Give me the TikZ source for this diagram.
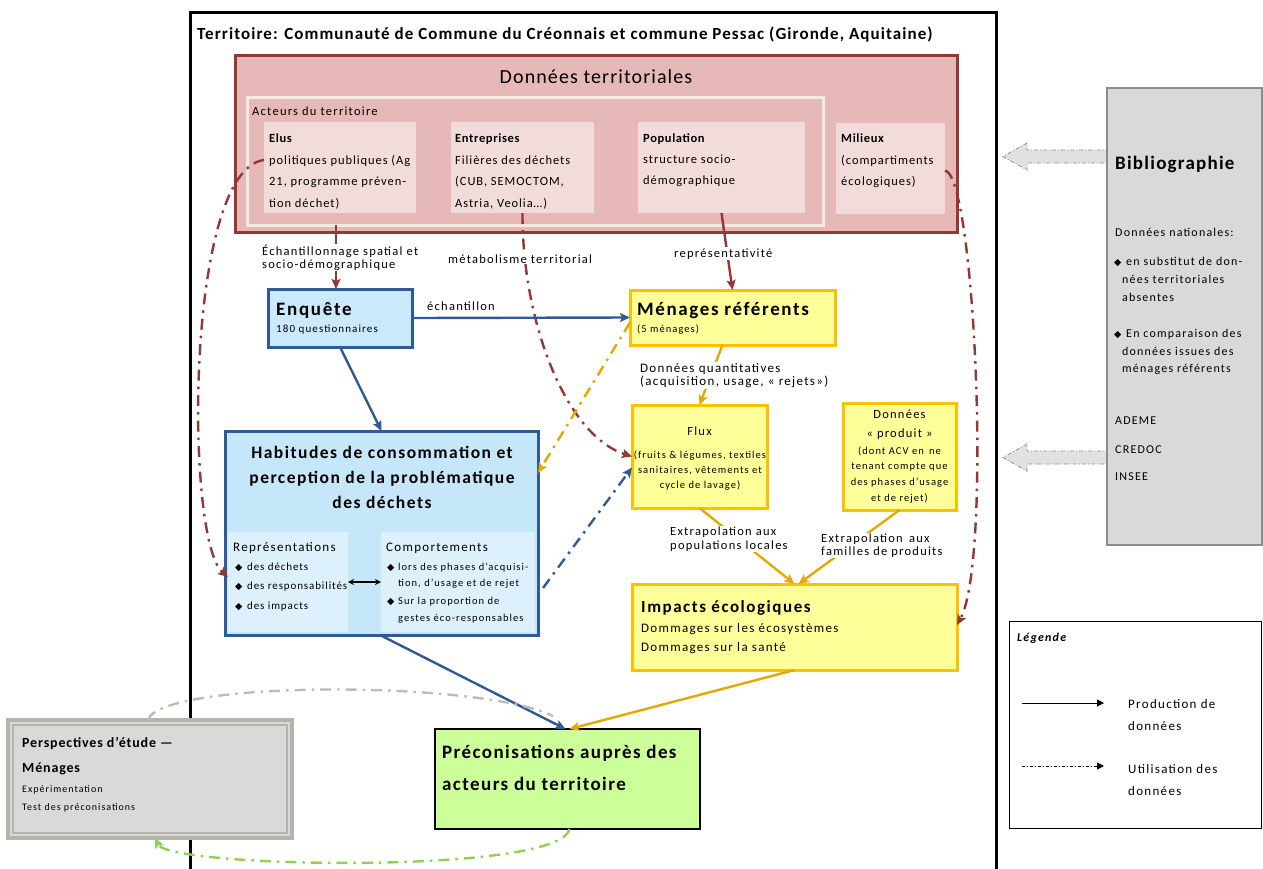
\documentclass[tikz,border=0pt]{standalone}
\usepackage{fontspec}
\setmainfont{Carlito}[LetterSpace=10]
\newfontfamily\symfont{DejaVu Sans}
\usetikzlibrary{arrows.meta}
\definecolor{dred}{HTML}{953735}
\definecolor{pinkbg}{HTML}{E6B9B8}
\definecolor{pinklt}{HTML}{F2DCDB}
\definecolor{cream}{HTML}{EEECE1}
\definecolor{bdark}{HTML}{2F5A96}
\definecolor{enqfill}{HTML}{CBE9FC}
\definecolor{habfill}{HTML}{C6E6FA}
\definecolor{habin}{HTML}{DDF1FD}
\definecolor{yfill}{HTML}{FFFF99}
\definecolor{gold}{HTML}{FFC000}
\definecolor{goldarr}{HTML}{E0AA00}
\definecolor{gfill}{HTML}{CCFF99}
\definecolor{grayfill}{HTML}{D9D9D9}
\definecolor{grayborder}{HTML}{8C8C8C}
\definecolor{perspb}{HTML}{B4B4AC}
\definecolor{gdash}{HTML}{92D050}
\definecolor{graydash}{HTML}{BDBDB6}
\newcommand\FS[2]{\fontsize{#1}{#2}\selectfont}
\newcommand\LS[1]{\addfontfeature{LetterSpace=#1}}
\newcommand\dmd{{\symfont\fontsize{9.5}{9.5}\selectfont ◆}}
\tikzset{
  box/.style={rectangle, inner sep=0pt, outer sep=0pt},
  tl/.style={anchor=base west, inner sep=0pt},
  tc/.style={anchor=base, inner sep=0pt},
  lbl/.style={fill=white, inner sep=1pt, align=left},
  solidarr/.style={line width=2.4pt, -{Stealth[length=10pt,width=9pt,inset=2pt]}},
  dasharr/.style={line width=2.4pt, dash pattern=on 11pt off 6pt on 2.5pt off 6pt, -{Stealth[length=10pt,width=9pt,inset=2pt]}},
  barrow/.style={fill=grayfill!80!white, draw=grayborder, line width=0.8pt, dash pattern=on 4pt off 2pt on 1pt off 2pt},
}
\begin{document}
\begin{tikzpicture}[x=1pt,y=-1pt]
\useasboundingbox (0,0) rectangle (1263,868);
% main frame
\draw[line width=3pt] (190,880) -- (190,12) -- (996,12) -- (996,880);
\node[tl, font=\bfseries\FS{17}{20}\LS{6.3}] (title) at (197,39) {Territoire: Communauté de Commune du Créonnais et commune Pessac (Gironde, Aquitaine)};

% Données territoriales
\node[box, fill=pinkbg, draw=dred, line width=3pt, minimum width=722pt, minimum height=177pt] (dt) at (596,143.5) {};
\node[tc, font=\FS{20}{24}\LS{5.5}] (dtt) at (596,83) {Données territoriales};
\node[box, fill=pinkbg, draw=cream, line width=3pt, minimum width=576pt, minimum height=128pt] (act) at (535,161) {};
\node[tl, font=\FS{12.5}{14}] (actt) at (252,115) {Acteurs du territoire};
\node[box, fill=pinklt, minimum width=152pt, minimum height=91pt] (elus) at (340,167.5) {};
\node[box, fill=pinklt, minimum width=143pt, minimum height=91pt] (ent) at (522.5,167.5) {};
\node[box, fill=pinklt, minimum width=167pt, minimum height=91pt] (pop) at (721.5,167.5) {};
\node[box, fill=pinklt, minimum width=109pt, minimum height=91pt] (mil) at (890.5,168.5) {};
\begin{scope}[every node/.append style={font=\FS{12.5}{14}\LS{7.5}}]
\node[tl, font=\bfseries\FS{12.5}{14}\LS{5}] (e1) at (269,142) {Elus};
\node[tl] (e2) at (269,164) {politiques publiques (Ag};
\node[tl] (e3) at (269,185) {21, programme préven-};
\node[tl] (e4) at (269,207) {tion déchet)};
\node[tl, font=\bfseries\FS{12.5}{14}\LS{5}] (n1) at (455,142) {Entreprises};
\node[tl] (n2) at (455,164) {Filières des déchets};
\node[tl] (n3) at (455,185) {(CUB, SEMOCTOM,};
\node[tl] (n4) at (455,207) {Astria, Veolia…)};
\node[tl, font=\bfseries\FS{12.5}{14}\LS{5}] (p1) at (643,142) {Population};
\node[tl] (p2) at (643,163) {structure socio-};
\node[tl] (p3) at (643,184) {démographique};
\node[tl, font=\bfseries\FS{12.5}{14}\LS{5}] (m1) at (841,142) {Milieux};
\node[tl] (m2) at (841,164) {(compartiments};
\node[tl] (m3) at (841,185) {écologiques)};
\end{scope}

% Enquête
\node[box, fill=enqfill, draw=bdark, line width=3pt, minimum width=144pt, minimum height=58pt] (enq) at (340,318) {};
\node[tl, font=\bfseries\FS{19}{22}\LS{9}] (enqt) at (276,315) {Enquête};
\node[tl, font=\FS{11}{13}] (enqs) at (276,332) {180 questionnaires};

% Ménages référents
\node[box, fill=yfill, draw=gold, line width=3pt, minimum width=205pt, minimum height=55pt] (men) at (732.5,317.5) {};
\node[tl, font=\bfseries\FS{19}{22}\LS{8.5}] (ment) at (637,315) {Ménages référents};
\node[tl, font=\FS{10.5}{12}] (mens) at (637,332) {(5 ménages)};

% Habitudes
\node[box, fill=habfill, draw=bdark, line width=3pt, minimum width=313pt, minimum height=204pt] (hab) at (381.5,533) {};
\node[box, fill=habin, minimum width=120pt, minimum height=100pt] (rep) at (288,582) {};
\node[box, fill=habin, minimum width=154pt, minimum height=100pt] (comp) at (458,582) {};
\begin{scope}[every node/.append style={font=\bfseries\FS{17.5}{20}\LS{8.5}}]
\node[tc] (h1) at (382,458) {Habitudes de consommation et};
\node[tc] (h2) at (382,483) {perception de la problématique};
\node[tc] (h3) at (382,508) {des déchets};
\end{scope}
\node[tl, font=\FS{13}{15}] (rt) at (233,551) {Représentations};
\begin{scope}[every node/.append style={font=\FS{11}{13}\LS{8}}]
\node[tl] (rb1) at (235,570) {\dmd};
\node[tl] (r1) at (247,570) {des déchets};
\node[tl] (rb2) at (235,589) {\dmd};
\node[tl] (r2) at (247,589) {des responsabilités};
\node[tl] (rb3) at (235,609) {\dmd};
\node[tl] (r3) at (247,609) {des impacts};
\end{scope}
\node[tl, font=\FS{13}{15}] (ct) at (386,551) {Comportements};
\begin{scope}[every node/.append style={font=\FS{10.5}{12}}]
\node[tl] (cb1) at (387,570) {\dmd};
\node[tl] (c1) at (398,570) {lors des phases d’acquisi-};
\node[tl] (c2) at (398,586) {tion, d’usage et de rejet};
\node[tl] (cb2) at (387,604) {\dmd};
\node[tl] (c3) at (398,604) {Sur la proportion de};
\node[tl] (c4) at (398,621) {gestes éco-responsables};
\end{scope}
\draw[line width=1.2pt, {Stealth[length=6pt,width=6pt]}-{Stealth[length=6pt,width=6pt]}] (rep.east) -- (comp.west);

% Flux
\node[box, fill=yfill, draw=gold, line width=3pt, minimum width=135pt, minimum height=103pt] (flux) at (699.5,456.5) {};
\node[tc, font=\FS{12.5}{14}] (f0) at (699.5,435) {Flux};
\begin{scope}[every node/.append style={font=\FS{10.5}{12}}]
\node[tc] (f1) at (700,458) {(fruits \& légumes, textiles};
\node[tc] (f2) at (700,473) {sanitaires, vêtements et};
\node[tc] (f3) at (700,488) {cycle de lavage)};
\end{scope}

% Données produit
\node[box, fill=yfill, draw=gold, line width=3pt, minimum width=113pt, minimum height=107pt] (prod) at (899.5,456.5) {};
\node[tc, font=\FS{12.5}{14}] (d1) at (899.5,418) {Données};
\node[tc, font=\FS{12.5}{14}] (d2) at (899.5,437) {« produit »};
\begin{scope}[every node/.append style={font=\FS{10.5}{12}}]
\node[tc] (d3) at (899.5,454) {(dont ACV en\enspace ne};
\node[tc] (d4) at (899.5,469) {tenant compte que};
\node[tc] (d5) at (899.5,485) {des phases d’usage};
\node[tc] (d6) at (899.5,501) {et de rejet)};
\end{scope}

% Impacts
\node[box, fill=yfill, draw=gold, line width=3pt, minimum width=325pt, minimum height=86pt] (imp) at (794.5,627) {};
\node[tl, font=\bfseries\FS{17}{20}\LS{9}] (i1) at (641,612) {Impacts écologiques};
\node[tl, font=\FS{13}{15}] (i2) at (641,632) {Dommages sur les écosystèmes};
\node[tl, font=\FS{13}{15}] (i3) at (641,651) {Dommages sur la santé};

% Préconisations
\node[box, fill=gfill, draw=black, line width=2pt, minimum width=265pt, minimum height=100pt] (pre) at (567.5,779) {};
\node[tl, font=\bfseries\FS{19}{22}\LS{7.5}] (pr1) at (442,758) {Préconisations auprès des};
\node[tl, font=\bfseries\FS{19}{22}\LS{7.5}] (pr2) at (442,790) {acteurs du territoire};

% Perspectives
\node[box, fill=grayfill, draw=perspb, line width=4pt, minimum width=284pt, minimum height=118pt] (persp) at (150,779) {};
\draw[perspb, line width=1.2pt] ([shift={(5pt,-5pt)}]persp.north west) rectangle ([shift={(-5pt,5pt)}]persp.south east);
\node[tl, font=\bfseries\FS{14}{16}\LS{6}] (ps1) at (22,747) {Perspectives d’étude —};
\node[tl, font=\bfseries\FS{14}{16}\LS{6}] (ps2) at (22,772) {Ménages};
\node[tl, font=\FS{10}{12}] (ps3) at (22,792) {Expérimentation};
\node[tl, font=\FS{10}{12}] (ps4) at (22,810) {Test des préconisations};

% Bibliographie arrows and box
\draw[barrow] (1110,150) -- (1027,150) -- (1027,143) -- (1003,156.5) -- (1027,170) -- (1027,163) -- (1110,163);
\draw[barrow] (1110,451) -- (1027,451) -- (1027,444) -- (1003,457.5) -- (1027,471) -- (1027,464) -- (1110,464);
\node[box, fill=grayfill, draw=grayborder, line width=1.5pt, minimum width=155pt, minimum height=457pt] (bib) at (1184.5,316.5) {};
\node[tl, font=\bfseries\FS{19}{22}\LS{6.5}] (b0) at (1115,169) {Bibliographie};
\begin{scope}[every node/.append style={font=\FS{12}{14}}]
\node[tl] (b1) at (1115,236) {Données nationales:};
\node[tl] (bb1) at (1114,265) {\dmd};
\node[tl] (b2) at (1126,265) {en substitut de don-};
\node[tl] (b3) at (1122,283) {nées territoriales};
\node[tl] (b4) at (1122,301) {absentes};
\node[tl] (bb2) at (1114,337) {\dmd};
\node[tl] (b5) at (1126,337) {En comparaison des};
\node[tl] (b6) at (1122,355) {données issues des};
\node[tl] (b7) at (1122,372) {ménages référents};
\node[tl] (b8) at (1115,424) {ADEME};
\node[tl] (b9) at (1115,453) {CREDOC};
\node[tl] (b10) at (1115,480) {INSEE};
\end{scope}

% Legend
\node[box, fill=white, draw=black, line width=1pt, minimum width=252pt, minimum height=207pt] (leg) at (1135,724.5) {};
\node[tl, font=\bfseries\itshape\FS{12}{14}] (lg0) at (1017,641) {Légende};
\coordinate (la1) at (1022,703);
\coordinate (la2) at (1104,703);
\coordinate (lb1) at (1022,766);
\coordinate (lb2) at (1104,766);
\draw[line width=1pt, -{Triangle[length=7pt,width=7pt]}] (la1) -- (la2);
\draw[line width=1pt, dash pattern=on 3pt off 2pt on 1pt off 2pt, -{Triangle[length=7pt,width=7pt]}] (lb1) -- (lb2);
\begin{scope}[every node/.append style={font=\FS{13}{15}}]
\node[tl] (lg1) at (1128,708) {Production de};
\node[tl] (lg2) at (1128,730) {données};
\node[tl] (lg3) at (1128,773) {Utilisation des};
\node[tl] (lg4) at (1128,795) {données};
\end{scope}

% ---------- connectors ----------
% dark red
\draw[solidarr, dred] ([xshift=-4pt]enq.north |- act.south) -- ([xshift=-4pt]enq.north);
\draw[solidarr, dred] (pop.south) -- (men.north);
\draw[dasharr, dred] (ent.south) .. controls (522,320) and (565,435) .. (flux.west);
\draw[dasharr, dred] ([yshift=7.5pt]elus.west) .. controls (185,170) and (185,540) .. ([yshift=5pt]rep.west);
\draw[dasharr, dred] ([yshift=-2pt]mil.east) .. controls (975,175) and (992,560) .. ([yshift=2pt]imp.east);
% blue
\draw[solidarr, bdark] (enq.east) -- (men.west);
\draw[solidarr, bdark] (enq.south) -- (hab.north);
\draw[dasharr, bdark] ([xshift=5pt,yshift=-55pt]hab.east) -- ([yshift=-11pt]flux.west);
\draw[solidarr, bdark] ([xshift=-1.5pt]hab.south) -- ([xshift=-2pt]pre.north);
% gold
\draw[dasharr, goldarr] ([yshift=-5pt]men.west) -- ([yshift=60pt]hab.east);
\draw[solidarr, goldarr] ([xshift=-10pt]men.south) -- (flux.north);
\draw[solidarr, goldarr] (flux.south) -- (imp.north);
\draw[solidarr, goldarr] (prod.south) -- ([xshift=4pt]imp.north);
\draw[solidarr, goldarr] (imp.south) -- ([xshift=2pt]pre.north);
% perspectives loop
\coordinate (gend) at (553,716);
\draw[line width=2.4pt, graydash, dash pattern=on 11pt off 6pt on 2.5pt off 6pt] ([xshift=-2pt]persp.north) .. controls (160,680) and (480,680) .. (gend);
\draw[dasharr, gdash] ([xshift=2pt]pre.south) .. controls (560,875) and (170,868) .. ([xshift=5pt]persp.south);

% connector labels
\node[lbl, anchor=west, font=\FS{12.5}{13}] (l1) at (261,257.5) {Échantillonnage spatial et\\socio-démographique};
\node[lbl, anchor=base west, font=\FS{12.5}{14}] (l2) at (447,263) {métabolisme territorial};
\node[lbl, anchor=base west, font=\FS{12.5}{14}] (l3) at (673,257) {représentativité};
\node[anchor=base west, inner sep=0pt, font=\FS{12.5}{14}] (l4) at (427,310) {échantillon};
\node[lbl, anchor=west, font=\FS{13}{13}] (l5) at (639,375.5) {Données quantitatives\\(acquisition, usage, « rejets»)};
\node[lbl, anchor=west, font=\FS{12.5}{14}] (l6) at (669,539) {Extrapolation aux\\populations locales};
\node[lbl, anchor=west, font=\FS{12.5}{13}] (l7) at (820,545.5) {Extrapolation\enspace aux\\familles de produits};
\end{tikzpicture}
\end{document}
